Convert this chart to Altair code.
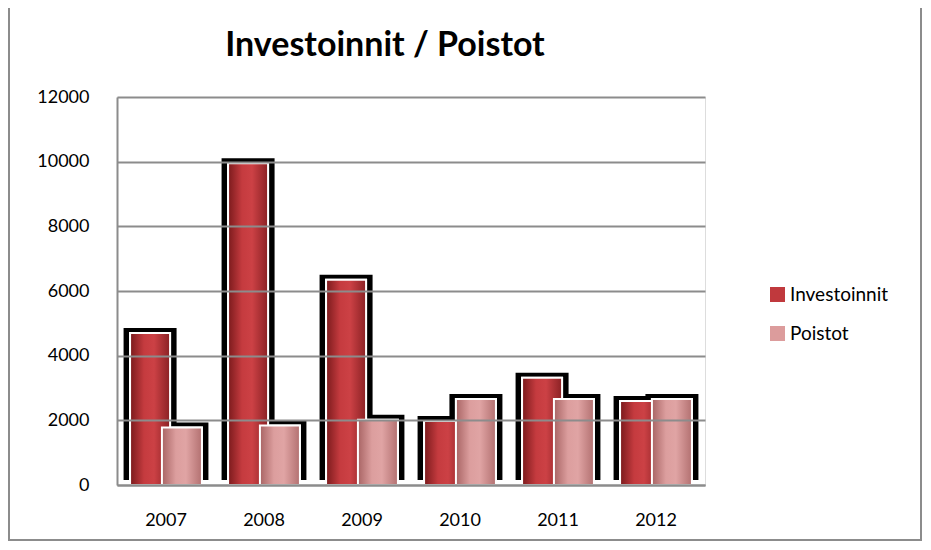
import altair as alt
import pandas as pd

years = ["2007", "2008", "2009", "2010", "2011", "2012"]
investoinnit = [4700, 9950, 6350, 1980, 3320, 2600]
poistot = [1780, 1840, 2020, 2660, 2660, 2660]
series_names = ["Investoinnit", "Poistot"]
series_colors = ["#c0393d", "#dc9c9c"]
y_ticks = [0, 2000, 4000, 6000, 8000, 10000, 12000]

rows = []
for i, yr in enumerate(years):
    rows.append({"year": yr, "series": series_names[0], "value": investoinnit[i]})
    rows.append({"year": yr, "series": series_names[1], "value": poistot[i]})
df = pd.DataFrame(rows)

FONT = "Lato"
W, H = 588, 388

x_enc = alt.X("year:N", sort=years, title=None,
              scale=alt.Scale(paddingInner=0.35, paddingOuter=0.175),
              axis=alt.Axis(labelAngle=0, labelFontSize=18, labelFont=FONT, labelColor="#000000",
                            labelPadding=26, ticks=False, domainColor="#8c8c8c", domainWidth=2,
                            zindex=1))
xo_enc = alt.XOffset("series:N", sort=series_names)
y_enc = alt.Y("value:Q", title=None,
              scale=alt.Scale(domain=[0, 12000], nice=False),
              axis=alt.Axis(values=y_ticks, format="d", labelFontSize=18, labelFont=FONT,
                            labelColor="#000000", labelPadding=28, ticks=False, grid=True,
                            gridColor="#8c8c8c", gridWidth=2, domainColor="#8c8c8c",
                            domainWidth=2, zindex=1))

base = alt.Chart(df)

frame = base.mark_rect(fill=None, stroke="#8c8c8c", strokeWidth=2).encode(
    x=alt.value(-108), x2=alt.value(804), y=alt.value(-90), y2=alt.value(443)
)

shadow = base.mark_bar(color="#000000", size=53, xOffset=2, yOffset=-5, y2Offset=12).encode(
    x=x_enc, xOffset=xo_enc, y=y_enc
)

bars = base.mark_bar(size=40, stroke="#ffffff", strokeWidth=2).encode(
    x=x_enc, xOffset=xo_enc, y=y_enc,
    color=alt.Color("series:N", sort=series_names, title=None,
                    scale=alt.Scale(domain=series_names, range=series_colors),
                    legend=alt.Legend(orient="none", legendX=651, legendY=188,
                                      symbolType="square", symbolSize=225,
                                      symbolStrokeWidth=0, labelFontSize=19,
                                      labelFont=FONT, labelColor="#000000",
                                      rowPadding=19, labelOffset=3))
)

inv_grad = alt.Gradient(gradient="linear", x1=0, x2=1, y1=0, y2=0, stops=[
    alt.GradientStop(offset=0, color="#7a1a1c"),
    alt.GradientStop(offset=0.35, color="#c53b3f"),
    alt.GradientStop(offset=0.6, color="#cc4145"),
    alt.GradientStop(offset=1, color="#8a2124"),
])
poi_grad = alt.Gradient(gradient="linear", x1=0, x2=1, y1=0, y2=0, stops=[
    alt.GradientStop(offset=0, color="#a86464"),
    alt.GradientStop(offset=0.35, color="#dc9e9e"),
    alt.GradientStop(offset=0.6, color="#e0a4a4"),
    alt.GradientStop(offset=1, color="#b27070"),
])

inv_bars = base.transform_filter(alt.datum.series == series_names[0]).mark_bar(
    size=40, stroke="#ffffff", strokeWidth=2, fill=inv_grad
).encode(x=x_enc, xOffset=xo_enc, y=y_enc)

poi_bars = base.transform_filter(alt.datum.series == series_names[1]).mark_bar(
    size=40, stroke="#ffffff", strokeWidth=2, fill=poi_grad
).encode(x=x_enc, xOffset=xo_enc, y=y_enc)

chart = alt.layer(frame, shadow, bars, inv_bars, poi_bars).properties(
    width=W, height=H,
    title=alt.TitleParams("Investoinnit / Poistot", fontSize=34, font=FONT, fontWeight="bold",
                          color="#000000", anchor="middle", dx=-26, offset=0, dy=57),
    padding={"left": 109, "top": 89, "right": 218, "bottom": 57},
    autosize=alt.AutoSizeParams(type="none"),
).configure_view(stroke=None).configure(background="#ffffff")

chart.save("out.html", embed_options={"renderer": "svg", "actions": False})
